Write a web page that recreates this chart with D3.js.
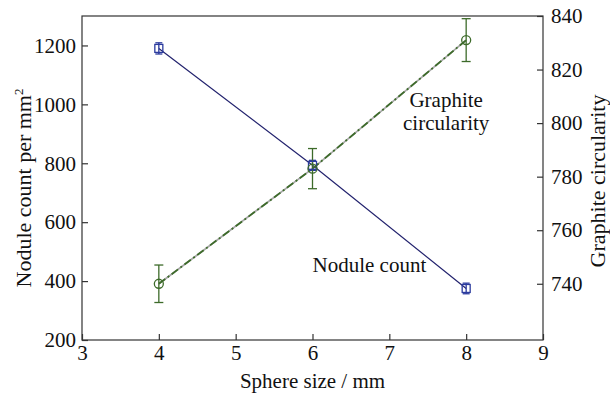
<!DOCTYPE html>
<html>
<head>
<meta charset="utf-8">
<script src="https://cdn.jsdelivr.net/npm/d3@7"></script>
<style>
  body { margin: 0; background: #fff; }
  svg text { font-family: "Liberation Serif", "Times New Roman", serif; }
</style>
</head>
<body>
<svg id="chart" width="610" height="394"></svg>
<script>
// sphere size (mm)
const sizes = [4, 6, 8];
// nodule count per mm^2 and its error
const noduleCount = [1190, 793, 375];
const noduleErr = [19, 17, 18];
// graphite circularity and its error
const circularity = [740, 783, 831];
const circErr = [7, 7.5, 8];

const xTicks = [3, 4, 5, 6, 7, 8, 9];
const leftTicks = [200, 400, 600, 800, 1000, 1200];
const rightTicks = [740, 760, 780, 800, 820, 840];

const margin = { top: 16, right: 67, bottom: 54, left: 82 };
const svg = d3.select('#chart');
const width = 610 - margin.left - margin.right;
const height = 394 - margin.top - margin.bottom;

const x = d3.scaleLinear().domain([3, 9]).range([0, width]);
const yL = d3.scaleLinear().domain([200, 1300]).range([height, 0]);
const yR = d3.scaleLinear().domain([719, 840]).range([height, 0]);

const g = svg.append('g')
  .attr('transform', 'translate(' + margin.left + ',' + margin.top + ')');

const axisColor = '#333';
const fmt = d3.format('d');
const fs = '21px';

// frame
g.append('rect')
  .attr('width', width).attr('height', height)
  .attr('fill', 'none').attr('stroke', axisColor).attr('stroke-width', 1.2);

const styleAxis = (sel) => {
  sel.attr('font-family', null).attr('font-size', null);
  sel.select('.domain').remove();
  sel.selectAll('.tick line').attr('stroke', axisColor).attr('stroke-width', 1.2);
  sel.selectAll('.tick text').style('font-size', fs).attr('fill', '#111');
};

g.append('g')
  .attr('transform', 'translate(0,' + height + ')')
  .call(d3.axisBottom(x).tickValues(xTicks).tickFormat(fmt).tickSizeInner(-6).tickSizeOuter(0).tickPadding(5))
  .call(styleAxis);

g.append('g')
  .call(d3.axisLeft(yL).tickValues(leftTicks).tickFormat(fmt).tickSizeInner(-6).tickSizeOuter(0).tickPadding(6))
  .call(styleAxis);

g.append('g')
  .attr('transform', 'translate(' + width + ',0)')
  .call(d3.axisRight(yR).tickValues(rightTicks).tickFormat(fmt).tickSizeInner(-6).tickSizeOuter(0).tickPadding(8))
  .call(styleAxis);

// nodule count series
const blue = '#23236e';
g.append('path')
  .datum(sizes.map((s, i) => [s, noduleCount[i]]))
  .attr('fill', 'none').attr('stroke', blue).attr('stroke-width', 1.2)
  .attr('d', d3.line().x(d => x(d[0])).y(d => yL(d[1])));

// graphite circularity series
const green = '#3d6b2a';
const circLine = d3.line().x(d => x(d[0])).y(d => yR(d[1]));
const circData = sizes.map((s, i) => [s, circularity[i]]);
g.append('path').datum(circData)
  .attr('fill', 'none').attr('stroke', '#a8a8a8').attr('stroke-width', 1.8)
  .attr('d', circLine);
g.append('path').datum(circData)
  .attr('fill', 'none').attr('stroke', green).attr('stroke-width', 1.8)
  .attr('stroke-dasharray', '8,3,2,3')
  .attr('d', circLine);

// error bars
const errBar = (data, err, y, color, cap) => {
  const eb = g.append('g').selectAll('g').data(sizes).enter().append('g')
    .attr('stroke', color).attr('stroke-width', 1.3);
  eb.append('line')
    .attr('x1', d => x(d)).attr('x2', d => x(d))
    .attr('y1', (d, i) => y(data[i] - err[i])).attr('y2', (d, i) => y(data[i] + err[i]));
  [-1, 1].forEach(sgn => {
    eb.append('line')
      .attr('x1', d => x(d) - cap).attr('x2', d => x(d) + cap)
      .attr('y1', (d, i) => y(data[i] + sgn * err[i])).attr('y2', (d, i) => y(data[i] + sgn * err[i]));
  });
};
errBar(noduleCount, noduleErr, yL, '#2b3b9e', 3.5);
errBar(circularity, circErr, yR, green, 4.5);

// markers
g.selectAll('.sq').data(sizes).enter().append('rect')
  .attr('x', d => x(d) - 4).attr('y', (d, i) => yL(noduleCount[i]) - 4)
  .attr('width', 8).attr('height', 8)
  .attr('fill', 'none').attr('stroke', '#2b3b9e').attr('stroke-width', 1.3);

g.selectAll('.circ').data(sizes).enter().append('circle')
  .attr('cx', d => x(d)).attr('cy', (d, i) => yR(circularity[i]))
  .attr('r', 4.5)
  .attr('fill', 'none').attr('stroke', green).attr('stroke-width', 1.3);

// in-plot labels
g.append('text').attr('x', x(7.74)).attr('y', 91)
  .attr('text-anchor', 'middle').style('font-size', fs).text('Graphite');
g.append('text').attr('x', x(7.74)).attr('y', 114)
  .attr('text-anchor', 'middle').style('font-size', fs).text('circularity');
g.append('text').attr('x', x(6.74)).attr('y', 256)
  .attr('text-anchor', 'middle').style('font-size', fs).text('Nodule count');

// axis titles
svg.append('text')
  .attr('x', margin.left + width / 2).attr('y', 388)
  .attr('text-anchor', 'middle').style('font-size', fs).text('Sphere size / mm');

const lt = svg.append('text')
  .attr('transform', 'translate(31,' + (margin.top + height / 2 + 10) + ') rotate(-90)')
  .attr('text-anchor', 'middle').style('font-size', '22px');
lt.append('tspan').text('Nodule count per mm');
lt.append('tspan').attr('dy', -8).style('font-size', '13px').text('2');

svg.append('text')
  .attr('transform', 'translate(605,' + (margin.top + height / 2 + 3) + ') rotate(-90)')
  .attr('text-anchor', 'middle').style('font-size', '22px').text('Graphite circularity');

svg.selectAll('text').attr('fill', '#111');
</script>
</body>
</html>
